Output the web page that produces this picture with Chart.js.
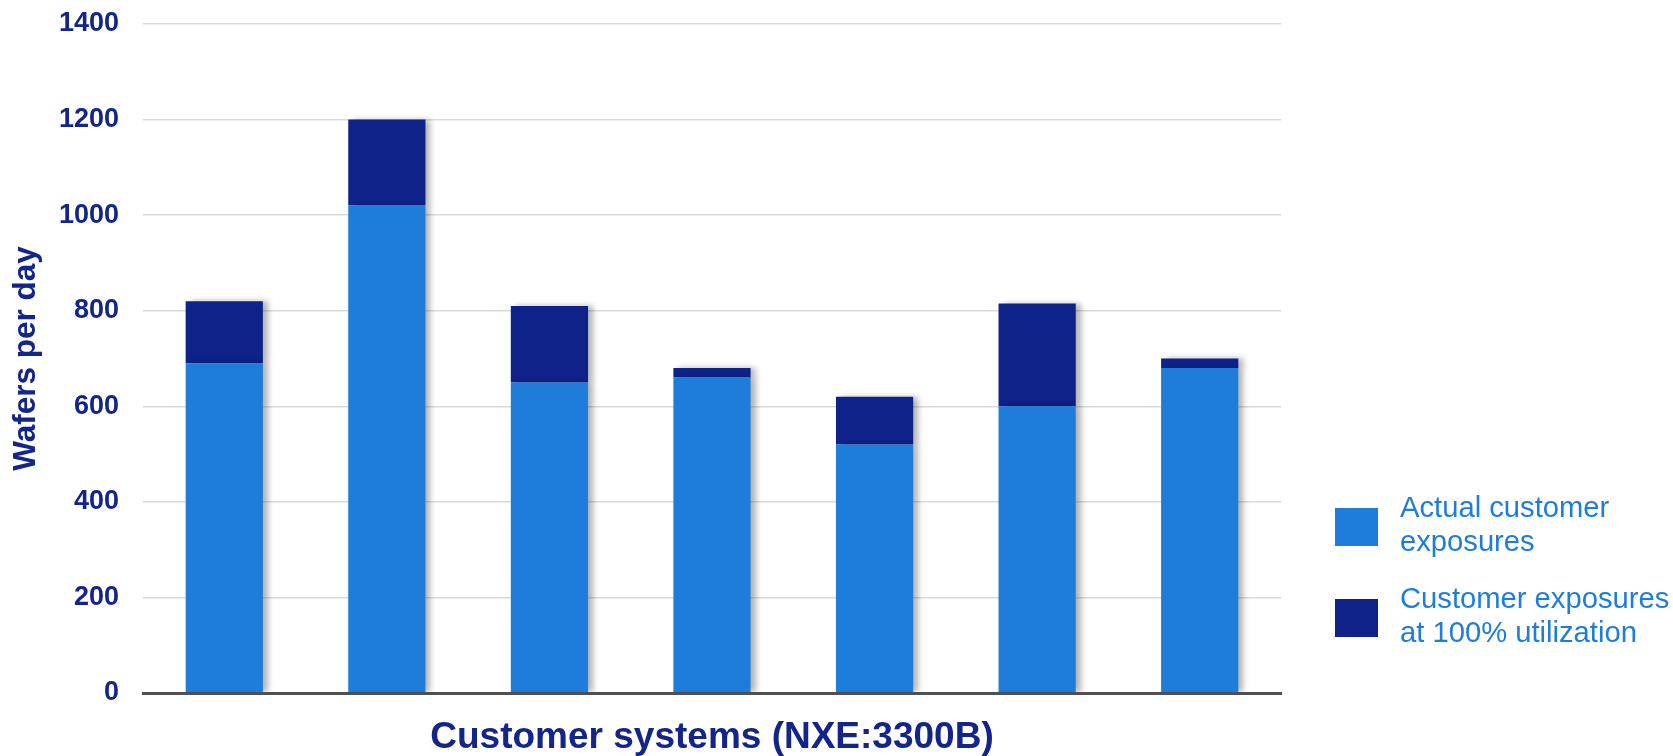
<!DOCTYPE html>
<html>
<head>
<meta charset="utf-8">
<title>Wafers per day</title>
<script src="https://cdn.jsdelivr.net/npm/chart.js@4.4.1/dist/chart.umd.min.js"></script>
<style>
  html, body { margin: 0; padding: 0; background: #fff; overflow: hidden; }
  #wrap { position: relative; width: 1673px; height: 756px; }
  #legend { position: absolute; left: 1335px; top: 0; font-family: "Liberation Sans", Arial, sans-serif; }
  .item { position: absolute; left: 0; }
  .box { position: absolute; left: 0; top: 0; width: 43px; height: 38px; }
  .txt { position: absolute; left: 65px; top: -18px; width: 292px; font-size: 29.2px; line-height: 34px; color: #1e7dda; }
</style>
</head>
<body>
<div id="wrap">
  <canvas id="wafers" width="1673" height="756"></canvas>
  <div id="legend"></div>
</div>
<script>
// wafers per day for each customer system
const systems = ['1', '2', '3', '4', '5', '6', '7'];
const actual = [690, 1020, 650, 660, 520, 600, 680];
const extraAtFull = [130, 180, 160, 20, 100, 215, 20];
const seriesNames = ['Actual customer exposures', 'Customer exposures at 100% utilization'];
const seriesColors = ['#1e7dda', '#0f228a'];
const yTicks = [0, 200, 400, 600, 800, 1000, 1200, 1400];

const navy = '#13248a';
const family = '"Liberation Sans", Arial, sans-serif';

// soft grey shadow to the right of the bars
const barShadow = {
    id: 'barShadow',
    beforeDatasetsDraw(chart) {
        const ctx = chart.ctx;
        ctx.save();
        ctx.shadowColor = 'rgba(0, 0, 0, 0.3)';
        ctx.shadowBlur = 6;
        ctx.shadowOffsetX = 5;
        ctx.shadowOffsetY = 0;
    },
    afterDatasetsDraw(chart) {
        chart.ctx.restore();
    }
};

const series = [actual, extraAtFull];

new Chart(document.getElementById('wafers'), {
    type: 'bar',
    data: {
        labels: systems,
        datasets: series.map((vals, i) => ({
            label: seriesNames[i],
            data: vals,
            backgroundColor: seriesColors[i],
            borderWidth: 0,
            barPercentage: 0.475,
            categoryPercentage: 1
        }))
    },
    options: {
        responsive: false,
        animation: false,
        layout: { padding: { top: 24, right: 392, left: 0, bottom: 0 } },
        plugins: {
            legend: { display: false },
            tooltip: { enabled: false }
        },
        scales: {
            x: {
                stacked: true,
                ticks: { display: false },
                grid: { display: false, drawTicks: false },
                border: { display: true, color: '#505050', width: 3, z: 1 },
                title: {
                    display: true,
                    text: 'Customer systems (NXE:3300B)',
                    color: navy,
                    font: { family: family, size: 37, weight: 'bold', lineHeight: 1 },
                    padding: { top: 26, bottom: 0 }
                }
            },
            y: {
                stacked: true,
                min: 0,
                max: 1400,
                afterBuildTicks(scale) {
                    scale.ticks = yTicks.map(v => ({ value: v }));
                },
                afterFit(scale) {
                    // fixed axis width, and no extra room reserved for the end labels
                    scale.width = 143;
                    scale.paddingTop = 0;
                    scale.paddingBottom = 0;
                },
                ticks: {
                    color: navy,
                    padding: 24,
                    font: { family: family, size: 27, weight: 'bold' },
                    callback: v => String(v)
                },
                grid: {
                    drawTicks: false,
                    color: c => c.tick && c.tick.value === 0 ? 'rgba(0,0,0,0)' : '#dadada',
                    lineWidth: 1.5
                },
                border: { display: false },
                title: {
                    display: true,
                    text: 'Wafers per day',
                    color: navy,
                    font: { family: family, size: 31.5, weight: 'bold', lineHeight: 1 },
                    padding: { top: 11, bottom: 0 }
                }
            }
        }
    },
    plugins: [barShadow]
});

// legend on the right, two-line labels
const legend = document.getElementById('legend');
const legendTops = [508, 599];
seriesNames.forEach((name, i) => {
    const item = document.createElement('div');
    item.className = 'item';
    item.style.top = legendTops[i] + 'px';
    const box = document.createElement('div');
    box.className = 'box';
    box.style.background = seriesColors[i];
    const txt = document.createElement('div');
    txt.className = 'txt';
    txt.textContent = name;
    item.appendChild(box);
    item.appendChild(txt);
    legend.appendChild(item);
});
</script>
</body>
</html>
